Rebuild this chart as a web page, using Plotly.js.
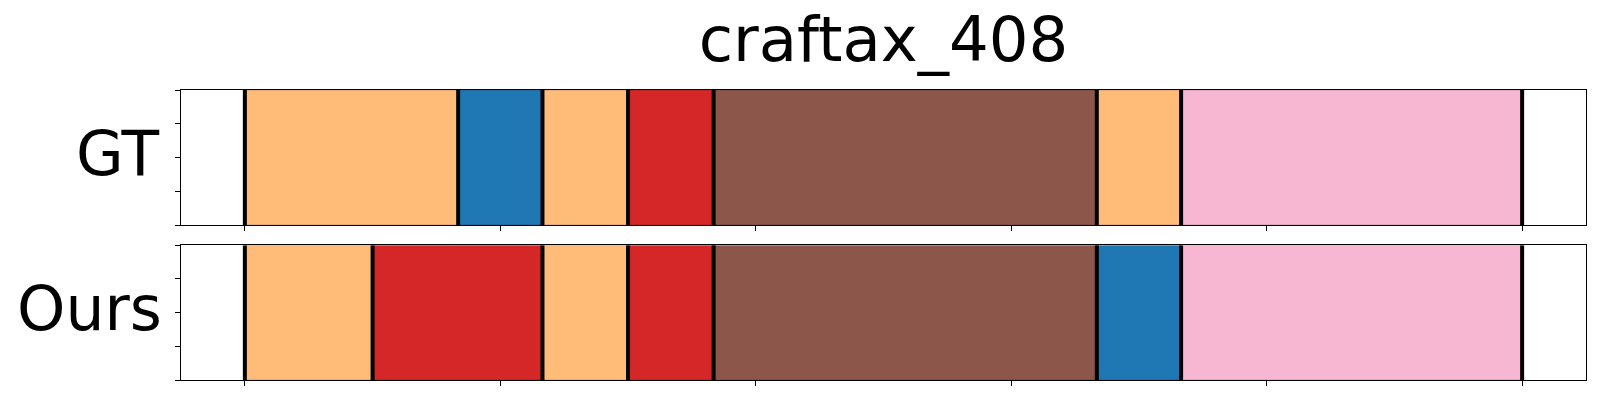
<!DOCTYPE html>
<html>
<head>
<meta charset="utf-8">
<script src="https://cdn.plot.ly/plotly-3.0.1.min.js"></script>
<style>html,body{margin:0;padding:0;background:#fff;}#chart{width:1600px;height:400px;}</style>
</head>
<body>
<div id="chart"></div>
<script>
// Segment data (x in units, 0..100)
const titleText = "craftax_408";
const rowNames = ["GT", "Ours"];
const gtStarts  = [0, 16.7, 23.3, 30, 36.7, 66.7, 73.3];
const gtEnds    = [16.7, 23.3, 30, 36.7, 66.7, 73.3, 100];
const gtLabels  = ["orange", "blue", "orange", "red", "brown", "orange", "pink"];
const oursStarts = [0, 10, 23.3, 30, 36.7, 66.7, 73.3];
const oursEnds   = [10, 23.3, 30, 36.7, 66.7, 73.3, 100];
const oursLabels = ["orange", "red", "orange", "red", "brown", "blue", "pink"];
const xTicks = [0, 20, 40, 60, 80, 100];
const yTicks = [-0.5, -0.25, 0, 0.25, 0.5];

const palette = {orange: "#ffbb78", blue: "#1f77b4", red: "#d62728", brown: "#8c564b", pink: "#f7b6d2"};

function rowTraces(starts, ends, labels, xa, ya) {
  const out = [];
  for (let i = 0; i < starts.length; i++) {
    out.push({
      type: "bar", orientation: "h",
      base: [starts[i]], x: [ends[i] - starts[i]], y: [0], width: [1],
      marker: {color: palette[labels[i]], line: {color: "rgba(0,0,0,0.18)", width: 1}},
      xaxis: xa, yaxis: ya, showlegend: false, hoverinfo: "skip"
    });
  }
  // boundary lines
  const bx = [], by = [];
  const bounds = [starts[0]].concat(ends);
  bounds.forEach(b => { bx.push(b, b, null); by.push(-0.5, 0.5, null); });
  out.push({type: "scatter", mode: "lines", x: bx, y: by, line: {color: "#000", width: 4},
            xaxis: xa, yaxis: ya, showlegend: false, hoverinfo: "skip"});
  return out;
}

const data = [].concat(
  rowTraces(gtStarts, gtEnds, gtLabels, "x", "y"),
  rowTraces(oursStarts, oursEnds, oursLabels, "x2", "y2")
);

const axX = {range: [-5, 105], tickvals: xTicks, showticklabels: false, ticks: "outside", ticklen: 5,
  tickwidth: 1, tickcolor: "#000", showline: true, mirror: true, linecolor: "#000", linewidth: 1.3,
  showgrid: false, zeroline: false, fixedrange: true};
const axY = {range: [-0.5, 0.5], tickvals: yTicks, showticklabels: false, ticks: "outside", ticklen: 5,
  tickwidth: 1, tickcolor: "#000", showline: true, mirror: true, linecolor: "#000", linewidth: 1.3,
  showgrid: false, zeroline: false, fixedrange: true};

const layout = {
  width: 1600, height: 400,
  margin: {l: 181, r: 14, t: 90, b: 20},
  paper_bgcolor: "#fff", plot_bgcolor: "#fff",
  barmode: "overlay",
  font: {family: "DejaVu Sans", color: "#000"},
  title: {text: titleText, font: {size: 62.5, family: "DejaVu Sans", color: "#000"},
          x: 0.5, xref: "paper", xanchor: "center", y: 1 - 39 / 400, yref: "container", yanchor: "middle"},
  xaxis: Object.assign({}, axX, {anchor: "y"}),
  yaxis: Object.assign({}, axY, {domain: [0.5345, 1], anchor: "x"}),
  xaxis2: Object.assign({}, axX, {anchor: "y2"}),
  yaxis2: Object.assign({}, axY, {domain: [0, 0.4645], anchor: "x2"}),
  annotations: [
    {text: rowNames[0], xref: "paper", yref: "y", x: 0, y: 0, xanchor: "right", yanchor: "middle",
     xshift: -20, yshift: 4, showarrow: false, font: {size: 61.5, family: "DejaVu Sans", color: "#000"}},
    {text: rowNames[1], xref: "paper", yref: "y2", x: 0, y: 0, xanchor: "right", yanchor: "middle",
     xshift: -17, yshift: 4, showarrow: false, font: {size: 61.5, family: "DejaVu Sans", color: "#000"}}
  ]
};

Plotly.newPlot("chart", data, layout, {displayModeBar: false, staticPlot: true});
</script>
</body>
</html>
